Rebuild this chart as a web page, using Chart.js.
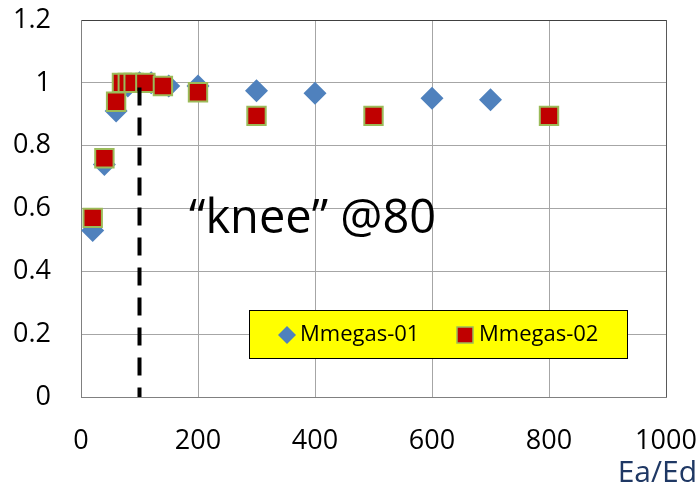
<!DOCTYPE html>
<html><head><meta charset="utf-8">
<script src="https://cdn.jsdelivr.net/npm/chart.js@4"></script>
<style>html,body{margin:0;padding:0;background:#fff}#wrap{width:699px;height:491px;position:relative}</style>
</head><body><div id="wrap"><canvas id="c" width="699" height="491"></canvas></div>
<script>
// ---- data ----
const series1Name = 'Mmegas-01';
const series1X = [20, 40, 60, 80, 100, 120, 150, 200, 300, 400, 600, 700];
const series1Y = [0.53, 0.74, 0.91, 0.99, 1.0, 1.0, 0.99, 0.99, 0.975, 0.967, 0.951, 0.946];
const series2Name = 'Mmegas-02';
const series2X = [20, 40, 60, 70, 80, 90, 110, 140, 200, 300, 500, 800];
const series2Y = [0.57, 0.76, 0.94, 1.0, 1.0, 1.0, 1.0, 0.99, 0.97, 0.895, 0.895, 0.895];
const kneeX = [100, 100];
const kneeY = [0.985, 0];
const xTickLabels = ['0', '200', '400', '600', '800', '1000'];
const yTickLabels = ['0', '0.2', '0.4', '0.6', '0.8', '1', '1.2'];
const kneeLabel = '\u201Cknee\u201D @80';
const xAxisTitle = 'Ea/Ed';

const toPts = (xs, ys) => xs.map((x, i) => ({x, y: ys[i]}));
const FONT = "'Open Sans', 'DejaVu Sans', sans-serif";

const overlay = {
  id: 'overlay',
  afterDraw(chart) {
    const ctx = chart.ctx;
    ctx.save();
    // legend box
    const bx = 249, by = 310, bw = 378, bh = 48;
    ctx.fillStyle = '#FFFF00';
    ctx.fillRect(bx, by, bw, bh);
    ctx.strokeStyle = '#000';
    ctx.lineWidth = 1;
    ctx.strokeRect(bx + 0.5, by + 0.5, bw, bh);
    // diamond
    const dx = 287, dy = 335, r = 9;
    ctx.fillStyle = '#4F81BD';
    ctx.beginPath();
    ctx.moveTo(dx, dy - r); ctx.lineTo(dx + r, dy); ctx.lineTo(dx, dy + r); ctx.lineTo(dx - r, dy);
    ctx.closePath(); ctx.fill();
    // square
    ctx.fillStyle = '#C00000';
    ctx.fillRect(457, 327, 16, 16);
    ctx.strokeStyle = '#9BBB59';
    ctx.lineWidth = 1.5;
    ctx.strokeRect(457, 327, 16, 16);
    ctx.fillStyle = '#000';
    ctx.font = "22px " + FONT;
    ctx.textBaseline = 'middle';
    ctx.textAlign = 'left';
    ctx.fillText(series1Name, 300, 335);
    ctx.fillText(series2Name, 479, 335);
    // knee label
    ctx.font = "47px " + FONT;
    ctx.textBaseline = 'alphabetic';
    ctx.fillText(kneeLabel, 189, 233);
    // axis title
    ctx.fillStyle = '#1F3864';
    ctx.font = "30px " + FONT;
    ctx.textAlign = 'right';
    ctx.fillText(xAxisTitle, 697, 482);
    ctx.restore();
  }
};

new Chart(document.getElementById('c'), {
  type: 'scatter',
  data: {
    datasets: [
      {
        label: 'knee', data: toPts(kneeX, kneeY), showLine: true,
        borderColor: '#000', borderWidth: 4, borderDash: [18, 12],
        pointRadius: 0, order: 0
      },
      {
        label: series2Name, data: toPts(series2X, series2Y),
        pointStyle: 'rect', pointRadius: 13, pointHoverRadius: 13,
        backgroundColor: '#C00000', borderColor: '#9BBB59', borderWidth: 2, order: 1
      },
      {
        label: series1Name, data: toPts(series1X, series1Y),
        pointStyle: 'rectRot', pointRadius: 11.5, pointHoverRadius: 11.5,
        backgroundColor: '#4F81BD', borderColor: '#4F81BD', borderWidth: 0, order: 2
      }
    ]
  },
  options: {
    responsive: false, animation: false, devicePixelRatio: 1,
    layout: {padding: {top: 20, right: 33, left: 0, bottom: 0}},
    plugins: {legend: {display: false}, tooltip: {enabled: false}},
    scales: {
      x: {
        type: 'linear', min: 0, max: 1000,
        afterFit: s => { s.height = 94; s.paddingLeft = 0; s.paddingRight = 0; },
        afterBuildTicks: s => { s.ticks = xTickLabels.map(v => ({value: +v})); },
        ticks: {padding: 28, color: '#000', font: {size: 27, family: FONT},
          maxRotation: 0, callback: (v, i) => xTickLabels[i]},
        grid: {drawTicks: false, color: c => c.tick && c.tick.value === 1000 ? '#595959' : '#A6A6A6', lineWidth: 1},
        border: {color: '#808080', width: 1}
      },
      y: {
        type: 'linear', min: 0, max: 1.2,
        afterFit: s => { s.width = 81; s.paddingTop = 0; s.paddingBottom = 0; },
        afterBuildTicks: s => { s.ticks = yTickLabels.map(v => ({value: +v})); },
        ticks: {padding: 30, color: '#000', font: {size: 27, family: FONT},
          callback: (v, i) => yTickLabels[i]},
        grid: {drawTicks: false, color: c => c.tick && Math.abs(c.tick.value - 1.2) < 1e-9 ? '#404040' : '#A6A6A6', lineWidth: 1},
        border: {color: '#808080', width: 1}
      }
    }
  },
  plugins: [overlay]
});
</script></body></html>
